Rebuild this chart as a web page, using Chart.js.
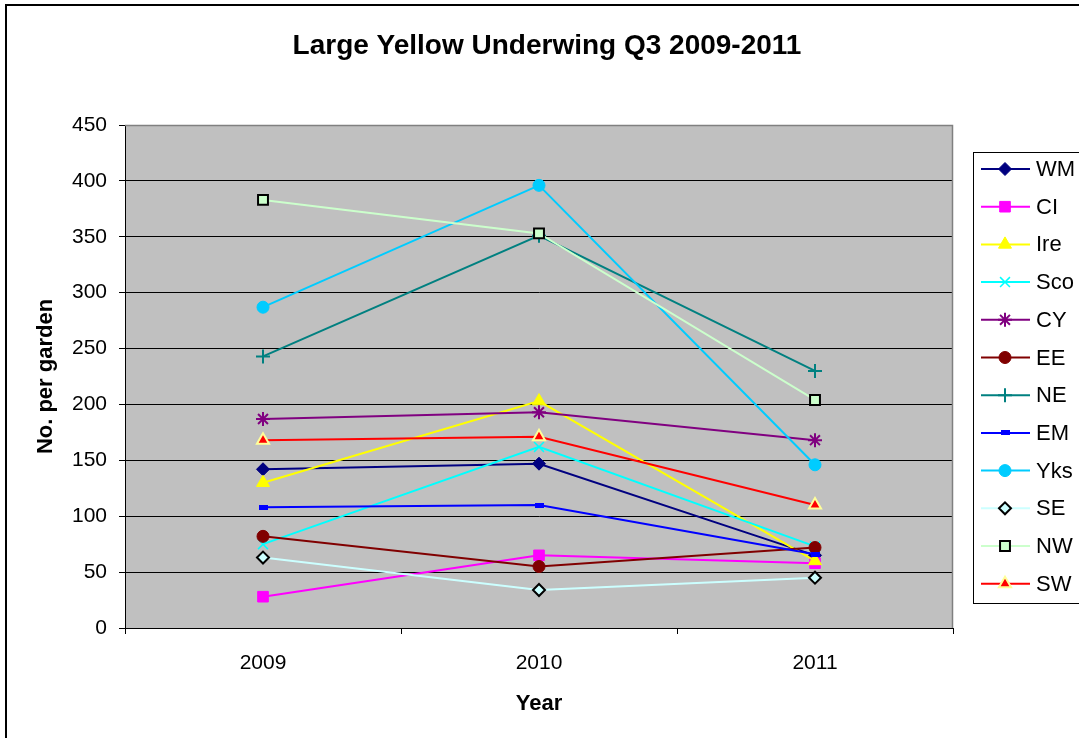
<!DOCTYPE html>
<html>
<head>
<meta charset="utf-8">
<script src="https://cdn.jsdelivr.net/npm/chart.js@4/dist/chart.umd.min.js"></script>
<style>
  body { margin: 0; background: #fff; overflow: hidden; }
  #wrap { position: relative; width: 1079px; height: 738px; }
</style>
</head>
<body>
<div id="wrap"><canvas id="mothChart"></canvas></div>
<script>
// years on the x axis
let years = ['2009', '2010', '2011'];

// counts per garden
let wm  = [142, 147, 65];
let ci  = [28, 65, 58];
let ire = [130, 203, 60];
let sco = [75, 162, 73];
let cy  = [187, 193, 168];
let ee  = [82, 55, 72];
let ne  = [243, 351, 230];
let em  = [108, 110, 66];
let yks = [287, 396, 146];
let se  = [63, 34, 45];
let nw  = [383, 353, 204];
let sw  = [168, 171, 110];

let yTicks = [0, 50, 100, 150, 200, 250, 300, 350, 400, 450];

const FONT = "'Liberation Sans', Arial, sans-serif";

// little flat blue bar used as the EM marker
function dashMarker() {
    let c = document.createElement('canvas');
    c.width = 9; c.height = 5;
    let g = c.getContext('2d');
    g.fillStyle = '#0000FF';
    g.fillRect(0, 0, 9, 5);
    return c;
}

function series(label, data, line, style, radius, fill, border, bw) {
    return {
        label: label,
        data: data,
        borderColor: line,
        borderWidth: 2,
        pointStyle: style,
        pointRadius: radius,
        pointBackgroundColor: fill,
        pointBorderColor: border,
        pointBorderWidth: bw,
        tension: 0,
        fill: false
    };
}

let datasets = [
    series('WM', wm, '#000080', 'rectRot', 6.5, '#000080', '#000080', 1),
    series('CI', ci, '#FF00FF', 'rect', 7.5, '#FF00FF', '#FF00FF', 1),
    series('Ire', ire, '#FFFF00', 'triangle', 7.5, '#FFFF00', '#FFFF00', 1),
    series('Sco', sco, '#00FFFF', 'crossRot', 7, '#00FFFF', '#00FFFF', 1.5),
    series('CY', cy, '#800080', 'star', 7, '#800080', '#800080', 2),
    series('EE', ee, '#800000', 'circle', 6, '#800000', '#800000', 1),
    series('NE', ne, '#008080', 'cross', 7, '#008080', '#008080', 2),
    series('EM', em, '#0000FF', dashMarker(), 5, '#0000FF', '#0000FF', 1),
    series('Yks', yks, '#00CCFF', 'circle', 6, '#00CCFF', '#00CCFF', 1),
    series('SE', se, '#CCFFFF', 'rectRot', 6, '#CCFFFF', '#000000', 2),
    series('NW', nw, '#CCFFCC', 'rect', 7, '#CCFFCC', '#000000', 2),
    series('SW', sw, '#FF0000', 'triangle', 7, '#FF0000', '#FFFF99', 2)
];
// excel paints later series on top
datasets.forEach(function(d, i) { d.order = datasets.length - i; });

// white page, outer frame, grey plot area
const backdrop = {
    id: 'backdrop',
    beforeDraw: function(chart) {
        let ctx = chart.ctx;
        let a = chart.chartArea;
        ctx.save();
        ctx.fillStyle = '#FFFFFF';
        ctx.fillRect(0, 0, chart.width, chart.height);
        ctx.strokeStyle = '#000000';
        ctx.lineWidth = 2;
        ctx.strokeRect(6, 5, 1200, 1000);
        ctx.fillStyle = '#C0C0C0';
        ctx.fillRect(a.left, a.top, a.right - a.left, a.bottom - a.top);
        ctx.restore();
    },
    beforeDatasetsDraw: function(chart) {
        let ctx = chart.ctx;
        let a = chart.chartArea;
        ctx.save();
        ctx.strokeStyle = '#808080';
        ctx.lineWidth = 1.5;
        ctx.beginPath();
        ctx.moveTo(a.left, a.top + 0.5);
        ctx.lineTo(a.right - 0.5, a.top + 0.5);
        ctx.lineTo(a.right - 0.5, a.bottom);
        ctx.stroke();
        ctx.restore();
    },
    afterDraw: function(chart) {
        let ctx = chart.ctx;
        ctx.save();
        ctx.fillStyle = '#000000';
        ctx.font = 'bold 28px ' + FONT;
        ctx.textAlign = 'center';
        ctx.textBaseline = 'middle';
        ctx.fillText('Large Yellow Underwing Q3 2009-2011', 547, 46);
        ctx.restore();
    }
};

// excel style legend: line sample + marker + name, inside a framed box
const sideLegend = {
    id: 'sideLegend',
    afterDraw: function(chart) {
        let ctx = chart.ctx;
        ctx.save();
        ctx.strokeStyle = '#000000';
        ctx.lineWidth = 1;
        ctx.strokeRect(973.5, 152.5, 200, 451);
        ctx.font = '22px ' + FONT;
        ctx.textBaseline = 'middle';
        ctx.textAlign = 'left';
        chart.data.datasets.forEach(function(ds, i) {
            let y = 169 + i * 37.7;
            ctx.strokeStyle = ds.borderColor;
            ctx.lineWidth = 2;
            ctx.beginPath();
            ctx.moveTo(981, y);
            ctx.lineTo(1030, y);
            ctx.stroke();
            ctx.fillStyle = ds.pointBackgroundColor;
            ctx.strokeStyle = ds.pointBorderColor;
            ctx.lineWidth = ds.pointBorderWidth;
            Chart.helpers.drawPoint(ctx, {
                pointStyle: ds.pointStyle,
                radius: ds.pointRadius,
                rotation: 0,
                borderWidth: ds.pointBorderWidth
            }, 1005, y);
            ctx.fillStyle = '#000000';
            ctx.fillText(ds.label, 1036, y + 1);
        });
        ctx.restore();
    }
};

function renderChart() {
    let ctx = document.getElementById('mothChart').getContext('2d');
    let chart = new Chart(ctx, {
        type: 'line',
        data: {
            labels: years,
            datasets: datasets
        },
        options: {
            responsive: true,
            maintainAspectRatio: false,
            animation: false,
            events: [],
            layout: {
                padding: { left: 20, top: 125, right: 126, bottom: 10 }
            },
            plugins: {
                legend: { display: false },
                title: { display: false },
                tooltip: { enabled: false }
            },
            scales: {
                x: {
                    offset: true,
                    grid: {
                        offset: true,
                        drawOnChartArea: false,
                        drawTicks: true,
                        tickLength: 6,
                        tickColor: '#000000'
                    },
                    border: { color: '#000000', width: 1 },
                    ticks: {
                        color: '#000000',
                        font: { family: FONT, size: 21 },
                        padding: 17,
                        maxRotation: 0
                    },
                    title: {
                        display: true,
                        text: 'Year',
                        color: '#000000',
                        font: { family: FONT, size: 22, weight: 'bold' },
                        padding: { top: 0, bottom: 11 }
                    },
                    afterFit: function(scale) { scale.height = 100; }
                },
                y: {
                    min: 0,
                    max: 450,
                    afterBuildTicks: function(scale) {
                        scale.ticks = yTicks.map(function(v) { return { value: v }; });
                    },
                    grid: {
                        color: '#000000',
                        lineWidth: 1,
                        tickLength: 6,
                        tickColor: '#000000'
                    },
                    border: { color: '#000000', width: 1 },
                    ticks: {
                        color: '#000000',
                        font: { family: FONT, size: 21 },
                        padding: 12
                    },
                    title: {
                        display: true,
                        text: 'No. per garden',
                        color: '#000000',
                        font: { family: FONT, size: 22, weight: 'bold' },
                        padding: { top: 13, bottom: 0 }
                    },
                    afterFit: function(scale) { scale.width = 105; }
                }
            }
        },
        plugins: [backdrop, sideLegend]
    });
    return chart;
}

renderChart();
</script>
</body>
</html>
